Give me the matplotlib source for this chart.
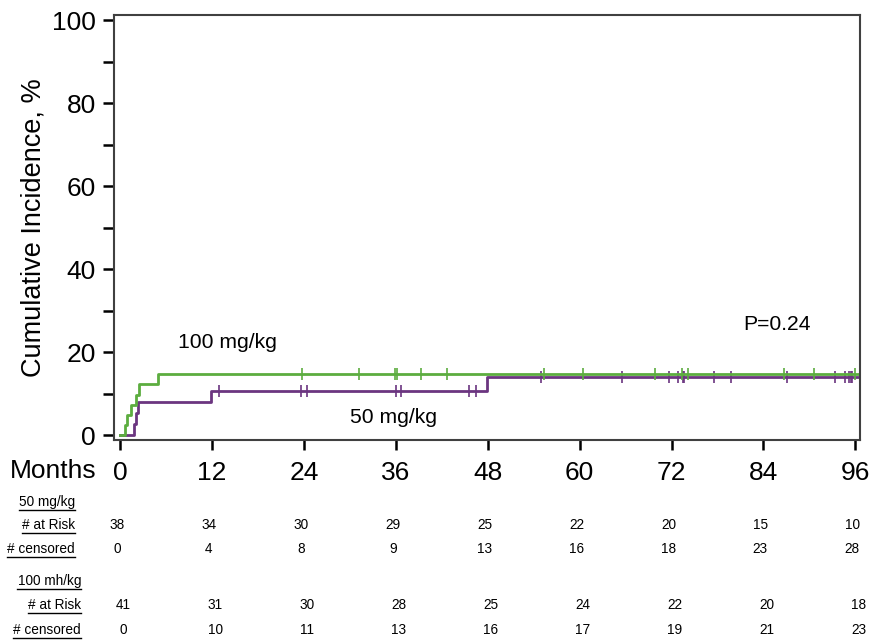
import matplotlib
matplotlib.use('Agg')
import matplotlib.pyplot as plt
import numpy as np

# --- data
t_100 = [0, 0.65, 0.95, 1.44, 2.09, 2.52, 5.0, 96.6]
ci_100 = [0, 2.44, 4.88, 7.32, 9.76, 12.2, 14.6, 14.6]
cens_100 = [23.8, 31.2, 35.9, 36.1, 39.3, 42.7, 55.3, 60.4, 69.9, 73.3,
            74.2, 86.7, 90.6, 95.9]

t_50 = [0, 1.83, 2.05, 2.35, 11.85, 47.95, 96.6]
ci_50 = [0, 2.63, 5.26, 7.89, 10.5, 13.9, 13.9]
cens_50 = [12.9, 23.6, 24.45, 36.0, 36.7, 45.6, 46.5, 54.9, 65.5, 71.7,
           72.9, 73.5, 73.6, 77.6, 79.8, 87.1, 93.4, 94.6, 95.1, 95.4, 95.6]

months = [0, 12, 24, 36, 48, 60, 72, 84, 96]
risk_50 = [38, 34, 30, 29, 25, 22, 20, 15, 10]
censored_50 = [0, 4, 8, 9, 13, 16, 18, 23, 28]
risk_100 = [41, 31, 30, 28, 25, 24, 22, 20, 18]
censored_100 = [0, 10, 11, 13, 16, 17, 19, 21, 23]

color_green = '#5cad3f'
color_purple = '#6b3580'

plt.rcParams['font.family'] = ['Liberation Sans', 'DejaVu Sans']
TABLE_SIZE = 9.8

fig = plt.figure(figsize=(8.7, 6.4), dpi=100)
ax = fig.add_axes([0.131, 0.3125, 0.8575, 0.664])


def level_at(ts, cs, x):
    i = np.searchsorted(ts, x, side='right') - 1
    return np.array(cs)[i]


ax.step(t_50, ci_50, where='post', color=color_purple, lw=2.0)
ax.plot(cens_50, level_at(t_50, ci_50, cens_50), ls='none', marker='|',
        ms=9, mew=1.2, color=color_purple)
ax.step(t_100, ci_100, where='post', color=color_green, lw=2.0)
ax.plot(cens_100, level_at(t_100, ci_100, cens_100), ls='none', marker='|',
        ms=9, mew=1.2, color=color_green)

ax.text(7.6, 22.2, '100 mg/kg', fontsize=15.2, va='center', ha='left')
ax.text(30.0, 4.3, '50 mg/kg', fontsize=15.2, va='center', ha='left')
ax.text(81.3, 26.6, 'P=0.24', fontsize=15.2, va='center', ha='left')

ax.set_xlim(-0.8, 96.6)
ax.set_ylim(-1.2, 101.2)
ax.set_xticks(months)
ax.set_yticks([0, 20, 40, 60, 80, 100])
ax.set_yticks([10, 30, 50, 70, 90], minor=True)
ax.tick_params(axis='both', which='both', direction='out', width=1.8,
               color='black')
ax.tick_params(axis='y', which='both', length=8, pad=5, labelsize=19)
ax.tick_params(axis='x', length=7, pad=8, labelsize=19)
for s in ax.spines.values():
    s.set_color('#404040')
    s.set_linewidth(1.5)
ax.set_ylabel('Cumulative Incidence, %', fontsize=19.5, labelpad=4)

# --- risk table below the axis
tr = ax.get_xaxis_transform()
fig.text(97 / 870, 1 - 471 / 640, 'Months', fontsize=19, ha='right',
         va='center')

rows = [
    ('50 mg/kg', 75, 502, None, 0),
    ('# at Risk', 75, 525, risk_50, -0.4),
    ('# censored', 75, 549, censored_50, -0.4),
    ('100 mh/kg', 81, 581, None, 0),
    ('# at Risk', 81, 605, risk_100, 0.4),
    ('# censored', 81, 630, censored_100, 0.4),
]
for label, xr, yc, vals, shift in rows:
    yf = 1 - yc / 640
    t = fig.text(xr / 870, yf, label, fontsize=TABLE_SIZE, ha='right',
                 va='center')
    fig.canvas.draw()
    bb = t.get_window_extent()
    fig.add_artist(plt.Line2D([bb.x0 / 870, bb.x1 / 870],
                              [(bb.y0 - 1) / 640, (bb.y0 - 1) / 640],
                              color='black', lw=1.0))
    if vals is not None:
        ya = ax.transAxes.inverted().transform(fig.transFigure.transform((0, yf)))[1]
        for m, v in zip(months, vals):
            ax.text(m + shift, ya, str(v), transform=tr, fontsize=TABLE_SIZE,
                    ha='center', va='center', clip_on=False)

fig.savefig('out.png', dpi=100)
